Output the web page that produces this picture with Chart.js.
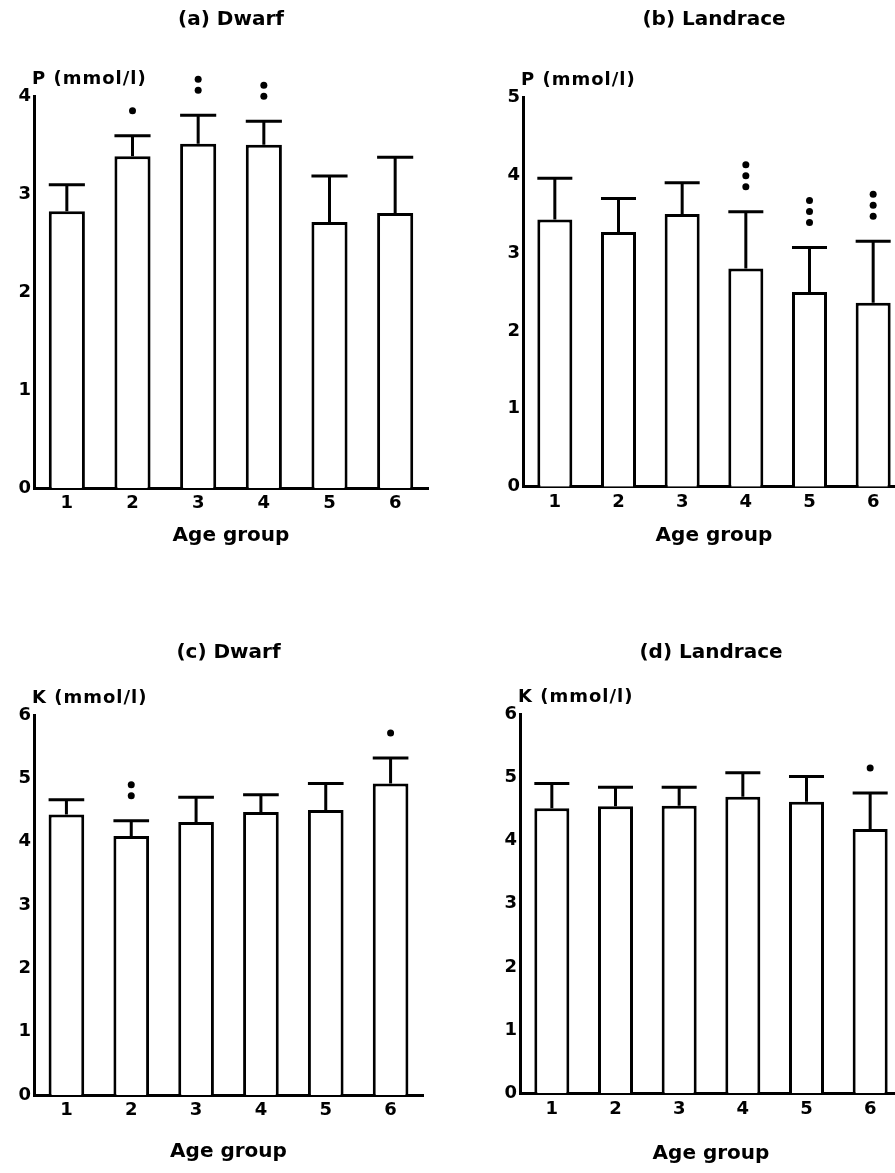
<!DOCTYPE html>
<html>
<head>
<meta charset="utf-8">
<script src="https://cdn.jsdelivr.net/npm/chart.js@4.4.0/dist/chart.umd.min.js"></script>
<style>
  html, body { margin: 0; padding: 0; background: #fff; overflow: hidden; width: 895px; height: 1173px; }
  canvas { position: absolute; }
</style>
</head>
<body>
<canvas id="chartA" width="445" height="575" style="left:0;top:0;width:445px;height:575px"></canvas>
<canvas id="chartB" width="480" height="575" style="left:440px;top:0;width:480px;height:575px"></canvas>
<canvas id="chartC" width="445" height="588" style="left:0;top:585px;width:445px;height:588px"></canvas>
<canvas id="chartD" width="480" height="588" style="left:440px;top:585px;width:480px;height:588px"></canvas>
<script>
const FONT = "'DejaVu Sans', sans-serif";

const ageGroups = ["1", "2", "3", "4", "5", "6"];

// P (mmol/l), Dwarf
const pDwarfMean = [2.83, 3.39, 3.52, 3.51, 2.72, 2.81];
const pDwarfSd = [0.27, 0.21, 0.29, 0.24, 0.47, 0.57];
const pDwarfSig = [0, 1, 2, 2, 0, 0];

// P (mmol/l), Landrace
const pLandraceMean = [3.43, 3.27, 3.50, 2.80, 2.50, 2.36];
const pLandraceSd = [0.53, 0.43, 0.40, 0.73, 0.57, 0.79];
const pLandraceSig = [0, 0, 0, 3, 3, 3];

// K (mmol/l), Dwarf
const kDwarfMean = [4.43, 4.09, 4.31, 4.47, 4.50, 4.92];
const kDwarfSd = [0.23, 0.24, 0.39, 0.27, 0.42, 0.40];
const kDwarfSig = [0, 2, 0, 0, 0, 1];

// K (mmol/l), Landrace
const kLandraceMean = [4.51, 4.54, 4.55, 4.69, 4.61, 4.18];
const kLandraceSd = [0.39, 0.30, 0.29, 0.38, 0.40, 0.57];
const kLandraceSig = [0, 0, 0, 0, 0, 1];

// whisker above each bar, significance dots stacked over it, unit label on the y axis
function errorBars(mean, sd, sig, unit) {
  return {
    id: "errorBars",
    afterDatasetsDraw(chart) {
      const ctx = chart.ctx;
      const y = chart.scales.y;
      const meta = chart.getDatasetMeta(0);
      ctx.save();
      ctx.strokeStyle = "#000";
      ctx.fillStyle = "#000";
      ctx.lineWidth = 3;
      meta.data.forEach((bar, i) => {
        const top = y.getPixelForValue(mean[i] + sd[i]);
        const half = bar.width / 2;
        ctx.beginPath();
        ctx.moveTo(bar.x, bar.y);
        ctx.lineTo(bar.x, top);
        ctx.moveTo(bar.x - half, top);
        ctx.lineTo(bar.x + half, top);
        ctx.stroke();
        for (let k = 0; k < sig[i]; k++) {
          ctx.beginPath();
          ctx.arc(bar.x, top - 25 - k * 11, 3.5, 0, Math.PI * 2);
          ctx.fill();
        }
      });
      ctx.font = `bold 18px ${FONT}`;
      ctx.letterSpacing = "1px";
      ctx.textAlign = "left";
      ctx.textBaseline = "middle";
      ctx.fillText(unit, chart.chartArea.left - 2, chart.chartArea.top - 17);
      ctx.restore();
    }
  };
}

function drawPanel(id, title, unit, mean, sd, sig, yMax, box) {
  const axisFont = { family: FONT, size: 18, weight: "bold" };
  return new Chart(document.getElementById(id), {
    type: "bar",
    data: {
      labels: ageGroups,
      datasets: [{
        data: mean,
        backgroundColor: "#fff",
        borderColor: "#000",
        borderWidth: 3,
        barPercentage: 0.55,
        categoryPercentage: 1
      }]
    },
    options: {
      responsive: false,
      animation: false,
      events: [],
      layout: { padding: { left: 0, top: 0, right: box.padRight, bottom: 0 } },
      plugins: {
        legend: { display: false },
        tooltip: { enabled: false },
        title: {
          display: true,
          text: title,
          fullSize: false,
          color: "#000",
          font: { family: FONT, size: 20, weight: "bold" },
          padding: { top: box.titleTop, bottom: box.titleBottom }
        }
      },
      scales: {
        x: {
          grid: { display: false, drawTicks: false },
          border: { display: true, color: "#000", width: 3 },
          ticks: { color: "#000", font: axisFont, padding: 5, maxRotation: 0 },
          title: {
            display: true,
            text: "Age group",
            color: "#000",
            font: { family: FONT, size: 20, weight: "bold" },
            padding: { top: 0, bottom: box.xTitleBottom }
          },
          afterFit: s => { s.height = box.xHeight; }
        },
        y: {
          min: 0,
          max: yMax,
          grid: { display: false, drawTicks: false },
          border: { display: true, color: "#000", width: 3 },
          ticks: { stepSize: 1, color: "#000", font: axisFont, padding: 3 },
          afterFit: s => { s.width = box.yWidth; }
        }
      }
    },
    plugins: [errorBars(mean, sd, sig, unit)]
  });
}

drawPanel("chartA", "(a) Dwarf", "P (mmol/l)", pDwarfMean, pDwarfSd, pDwarfSig, 4,
  { titleTop: 8, titleBottom: 64.7, xHeight: 87, xTitleBottom: 27, yWidth: 34, padRight: 17 });
drawPanel("chartB", "(b) Landrace", "P (mmol/l)", pLandraceMean, pLandraceSd, pLandraceSig, 5,
  { titleTop: 8, titleBottom: 65.1, xHeight: 88.3, xTitleBottom: 27, yWidth: 83, padRight: 15 });
drawPanel("chartC", "(c) Dwarf", "K (mmol/l)", kDwarfMean, kDwarfSd, kDwarfSig, 6,
  { titleTop: 56, titleBottom: 50, xHeight: 78, xTitleBottom: 9, yWidth: 34, padRight: 22 });
drawPanel("chartD", "(d) Landrace", "K (mmol/l)", kLandraceMean, kLandraceSd, kLandraceSig, 6,
  { titleTop: 56, titleBottom: 49, xHeight: 79.7, xTitleBottom: 7, yWidth: 80, padRight: 18 });
</script>
</body>
</html>
